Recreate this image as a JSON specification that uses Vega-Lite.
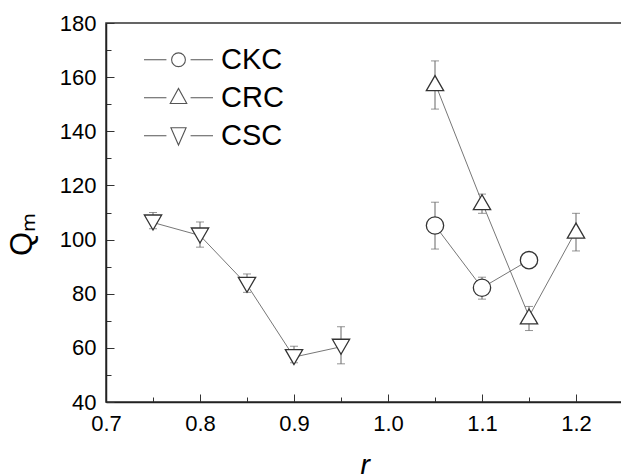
{
  "$schema": "https://vega.github.io/schema/vega-lite/v6.json",
  "width": 517,
  "height": 379,
  "autosize": {"type": "none"},
  "padding": {"left": 106, "top": 23, "right": 0, "bottom": 72},
  "background": "white",
  "config": {"font": "Liberation Sans", "view": {"stroke": "#333", "strokeWidth": 1.5}},
  "data": {"values": [
    {"series": "CKC", "r": 1.05, "Q": 105.2, "lo": 96.5, "hi": 113.8},
    {"series": "CKC", "r": 1.10, "Q": 82.2, "lo": 78.0, "hi": 86.1},
    {"series": "CKC", "r": 1.15, "Q": 92.4, "lo": 90.0, "hi": 94.3},
    {"series": "CRC", "r": 1.05, "Q": 157.8, "lo": 148.2, "hi": 166.0},
    {"series": "CRC", "r": 1.10, "Q": 113.8, "lo": 109.7, "hi": 116.8},
    {"series": "CRC", "r": 1.15, "Q": 71.6, "lo": 66.4, "hi": 75.3},
    {"series": "CRC", "r": 1.20, "Q": 103.3, "lo": 95.8, "hi": 109.7},
    {"series": "CSC", "r": 0.75, "Q": 106.3, "lo": 104.0, "hi": 110.0},
    {"series": "CSC", "r": 0.80, "Q": 101.5, "lo": 97.2, "hi": 106.5},
    {"series": "CSC", "r": 0.85, "Q": 83.3, "lo": 80.5, "hi": 87.3},
    {"series": "CSC", "r": 0.90, "Q": 56.6, "lo": 54.5, "hi": 60.6},
    {"series": "CSC", "r": 0.95, "Q": 60.4, "lo": 54.1, "hi": 67.8}
  ]},
  "layer": [
    {
      "mark": {"type": "line", "color": "#777", "strokeWidth": 1},
      "encoding": {
        "x": {"field": "r", "type": "quantitative",
          "scale": {"domain": [0.7, 1.25], "nice": false, "zero": false},
          "axis": {"orient": "bottom", "values": [0.75, 0.85, 0.95, 1.05, 1.15, 1.25], "tickSize": -5, "labels": false, "domain": false, "grid": false, "title": null, "tickColor": "#333", "tickWidth": 1}},
        "y": {"field": "Q", "type": "quantitative",
          "scale": {"domain": [40, 180], "nice": false, "zero": false},
          "axis": {"orient": "left", "values": [50, 70, 90, 110, 130, 150, 170], "tickSize": -5, "labels": false, "domain": false, "grid": false, "title": null, "tickColor": "#333", "tickWidth": 1}},
        "detail": {"field": "series", "type": "nominal"}
      }
    },
    {
      "mark": {"type": "errorbar", "color": "#666", "thickness": 1, "ticks": {"size": 8, "color": "#666"}},
      "encoding": {
        "x": {"field": "r", "type": "quantitative", "axis": null},
        "y": {"field": "lo", "type": "quantitative", "axis": null},
        "y2": {"field": "hi"}
      }
    },
    {
      "mark": {"type": "point", "filled": true, "fill": "white", "stroke": "#333", "strokeWidth": 1.3, "opacity": 1, "size": 300},
      "encoding": {
        "x": {"field": "r", "type": "quantitative",
          "scale": {"domain": [0.7, 1.25], "nice": false, "zero": false},
          "axis": {"orient": "bottom", "values": [0.7, 0.8, 0.9, 1.0, 1.1, 1.2], "format": ".1f", "tickSize": -8, "tickColor": "#333", "labelPadding": 19, "labelFontSize": 22, "labelColor": "black", "labelFlush": false, "labelOverlap": false, "domainColor": "#222", "domainWidth": 1.5, "grid": false,
            "title": "r", "titleFontSize": 29, "titleFontStyle": "italic", "titleFontWeight": "normal", "titleColor": "black", "titleBaseline": "alphabetic", "titleY": 72}},
        "y": {"field": "Q", "type": "quantitative",
          "scale": {"domain": [40, 180], "nice": false, "zero": false},
          "axis": {"orient": "left", "values": [40, 60, 80, 100, 120, 140, 160, 180], "tickSize": -8, "tickColor": "#333", "labelPadding": 18, "labelFontSize": 22, "labelColor": "black", "labelFlush": false, "labelOverlap": false, "domainColor": "#222", "domainWidth": 1.5, "grid": false,
            "title": "Qₘ", "titleFontSize": 31, "titleFontWeight": "normal", "titleColor": "black", "titleAngle": -90, "titleBaseline": "alphabetic", "titleX": -75, "titleY": 211}},
        "shape": {"field": "series", "type": "nominal",
          "scale": {"domain": ["CKC", "CRC", "CSC"], "range": ["circle", "triangle-up", "triangle-down"]},
          "legend": null}
      }
    },
    {
      "mark": {"type": "point", "filled": false, "color": "#555", "strokeWidth": 1.1, "opacity": 0},
      "encoding": {
        "x": {"field": "r", "type": "quantitative", "axis": null},
        "y": {"field": "Q", "type": "quantitative", "axis": null},
        "shape": {"field": "series", "type": "nominal",
          "scale": {"domain": ["CKC", "CRC", "CSC"], "range": [
            "M-1,0H-0.35M0.35,0H1M0.2,0A0.2,0.2,0,1,1,-0.2,0A0.2,0.2,0,1,1,0.2,0Z",
            "M-1,0H-0.35M0.35,0H1M-0.24,0.165L0.24,0.165L0,-0.27Z",
            "M-1,0H-0.35M0.35,0H1M-0.22,-0.23L0.22,-0.23L0,0.27Z"]},
          "legend": {"orient": "none", "legendX": 37, "legendY": 18, "title": null, "padding": 0, "rowPadding": 0, "clipHeight": 37.5, "labelFontSize": 29, "labelColor": "black", "labelOffset": 7, "labelBaseline": "middle",
            "symbolSize": 4761, "symbolOpacity": 1, "symbolStrokeColor": "#555", "symbolStrokeWidth": 1.1, "symbolFillColor": "white"}}
      }
    }
  ],
  "resolve": {"axis": {"x": "independent", "y": "independent"}, "scale": {"shape": "independent"}}
}
